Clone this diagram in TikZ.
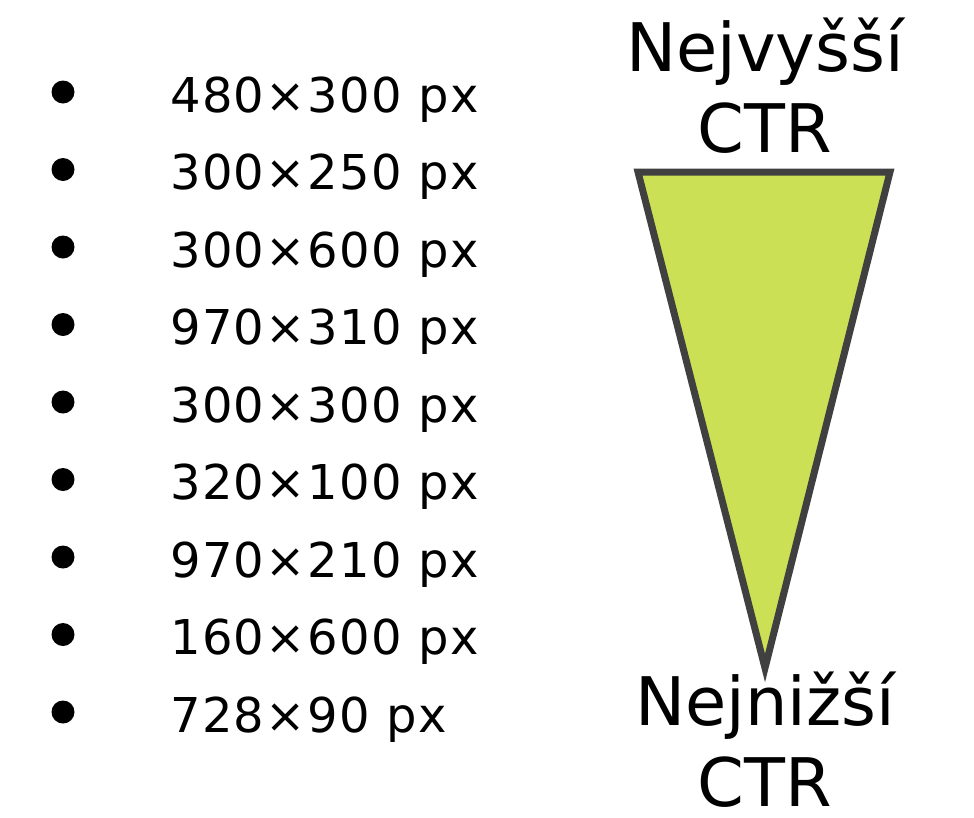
\documentclass[tikz,border=0pt]{standalone}
\usepackage{fontspec}
\setmainfont{DejaVu Sans}
\definecolor{trifill}{HTML}{CCE055}
\definecolor{tristroke}{HTML}{404040}
\begin{document}
\begin{tikzpicture}[x=1pt,y=-1pt,
  itemtext/.style={anchor=base west,inner sep=0pt,font=\fontsize{48}{58}\selectfont\addfontfeature{LetterSpace=2.8}},
  bulletdot/.style={circle,fill=black,inner sep=0pt,minimum size=23pt},
  titletext/.style={anchor=base,inner sep=0pt,align=center,font=\fontsize{67}{81}\selectfont}]
\useasboundingbox (0,0) rectangle (974,817);
\foreach \t [count=\i from 0] in {480×300 px,300×250 px,300×600 px,970×310 px,300×300 px,320×100 px,970×210 px,160×600 px,728×90 px}{
  \node[bulletdot] (b\i) at (63,{92+77.5*\i}) {};
  \node[itemtext] (t\i) at (170,{112+77.5*\i}) {\t};
}
\coordinate (tl) at (638,172);
\coordinate (tr) at (890,172);
\coordinate (tip) at (765,668);
\draw[line width=7pt,draw=tristroke,fill=trifill] (tl) -- (tr) -- (tip) -- cycle;
\node[titletext] (top) at (765,152) {Nejvyšší\\CTR};
\node[titletext] (bottom) at (765,806) {Nejnižší\\CTR};
\end{tikzpicture}
\end{document}
